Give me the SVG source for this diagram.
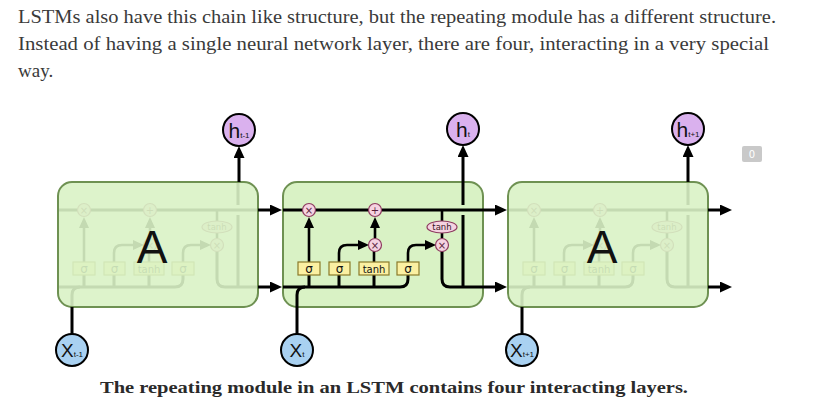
<svg xmlns="http://www.w3.org/2000/svg" xmlns:xlink="http://www.w3.org/1999/xlink" width="813" height="411" viewBox="0 0 813 411">
<defs>
<style>
.para{font-family:"Liberation Serif","DejaVu Serif",serif;font-size:19px;fill:#3a3a3a}
.cap{font-family:"Liberation Serif","DejaVu Serif",serif;font-size:17px;font-weight:bold;fill:#2a2a2a}
.ln{fill:none;stroke:#000;stroke-width:3}
.ln2{fill:none;stroke:#000;stroke-width:2.6}
.box{fill:#d9f2c5;stroke:#6e9152;stroke-width:2}
.boxf{fill:#d9f2c5;fill-opacity:0.9;stroke:#6e9152;stroke-width:2}
.gate{fill:#fbf0a2;stroke:#8a7a2a;stroke-width:1.2}
.gt{font-family:"DejaVu Sans",sans-serif;font-size:12px;fill:#111;text-anchor:middle}
.gt2{font-family:"DejaVu Sans",sans-serif;font-size:10px;fill:#111;text-anchor:middle}
.op{fill:#f5d3e1;stroke:#8e3b60;stroke-width:1.2}
.ot{font-family:"DejaVu Sans",sans-serif;font-size:10px;fill:#5a1f3a;text-anchor:middle}
.ot2{font-family:"DejaVu Sans",sans-serif;font-size:8.5px;fill:#3a1526;text-anchor:middle}
.hc{fill:#dab1ee;stroke:#000;stroke-width:2}
.xc{fill:#a9d1f1;stroke:#000;stroke-width:2}
.lb{font-family:"Liberation Sans",Arial,sans-serif;fill:#111;text-anchor:middle}
.bigA{font-family:"Liberation Sans",Arial,sans-serif;font-size:46px;fill:#111;text-anchor:middle}
</style>
<marker id="ah" markerUnits="userSpaceOnUse" markerWidth="12" markerHeight="11" refX="7" refY="5.5" orient="auto">
<path d="M0,0 L12,5.5 L0,11 z" fill="#000"/>
</marker>
<marker id="ahs" markerUnits="userSpaceOnUse" markerWidth="11" markerHeight="10" refX="6" refY="5" orient="auto">
<path d="M0,0 L11,5 L0,10 z" fill="#000"/>
</marker>
</defs>
<rect width="813" height="411" fill="#fff"/>

<g id="paragraph">
<text class="para" x="18" y="23" textLength="758" lengthAdjust="spacingAndGlyphs">LSTMs also have this chain like structure, but the repeating module has a different structure.</text>
<text class="para" x="18" y="50" textLength="751" lengthAdjust="spacingAndGlyphs">Instead of having a single neural network layer, there are four, interacting in a very special</text>
<text class="para" x="18" y="77">way.</text>
</g>

<g id="module-prev">
<use xlink:href="#cell-lines" href="#cell-lines" transform="translate(-225 0)"/>
<use xlink:href="#cell-ops" href="#cell-ops" transform="translate(-225 0)"/>
<rect class="boxf" x="58" y="182" width="200" height="125" rx="14"/>
<text class="bigA" x="152" y="263">A</text>
</g>

<g id="module-next">
<use xlink:href="#cell-lines" href="#cell-lines" transform="translate(225 0)"/>
<use xlink:href="#cell-ops" href="#cell-ops" transform="translate(225 0)"/>
<rect class="boxf" x="508" y="182" width="200" height="125" rx="14"/>
<text class="bigA" x="602" y="263">A</text>
</g>

<g id="module-current">
<rect class="box" x="283" y="182" width="200" height="125" rx="14"/>
</g>

<g id="connectors">
<g id="cell-lines">
<path class="ln" d="M283,210 H483"/>
<path class="ln" d="M283,287 H400 Q408,287 408,279 V275"/>
<path class="ln" d="M297,307 V295 Q297,287 305,287"/>
<path class="ln" d="M309,287 V275 M339,287 V275 M374,287 V275"/>
<path class="ln2" d="M309,262 V222" marker-end="url(#ahs)"/>
<path class="ln2" d="M339,262 V253 Q339,245 347,245 H364" marker-end="url(#ahs)"/>
<path class="ln2" d="M374,262 V251"/>
<path class="ln2" d="M375,238 V222" marker-end="url(#ahs)"/>
<path class="ln2" d="M408,262 V253 Q408,245 416,245 H431" marker-end="url(#ahs)"/>
<path class="ln2" d="M442,210 V221 M442,233 V238"/>
<path class="ln" d="M442,251 V279 Q442,287 450,287 H483"/>
<path class="ln" d="M463,287 V215 M463,205 V182"/>
</g>
<path class="ln" d="M258,210 H277" marker-end="url(#ah)"/>
<path class="ln" d="M258,287 H277" marker-end="url(#ah)"/>
<path class="ln" d="M483,210 H502" marker-end="url(#ah)"/>
<path class="ln" d="M483,287 H502" marker-end="url(#ah)"/>
<path class="ln" d="M708,210 H727" marker-end="url(#ah)"/>
<path class="ln" d="M708,287 H727" marker-end="url(#ah)"/>
<path class="ln" d="M239,182 V151" marker-end="url(#ah)"/>
<path class="ln" d="M463,182 V150" marker-end="url(#ah)"/>
<path class="ln" d="M688,182 V150" marker-end="url(#ah)"/>
<path class="ln" d="M72,334 V307"/>
<path class="ln" d="M297,334 V307"/>
<path class="ln" d="M522,334 V307"/>
</g>

<g id="cell-ops">
<g id="gate-forget"><rect class="gate" x="298" y="262" width="22" height="13"/><text class="gt" x="309" y="273">σ</text></g>
<g id="gate-input"><rect class="gate" x="329" y="262" width="21" height="13"/><text class="gt" x="339.5" y="273">σ</text></g>
<g id="gate-candidate"><rect class="gate" x="359" y="262" width="30" height="13"/><text class="gt2" x="374" y="272.5">tanh</text></g>
<g id="gate-output"><rect class="gate" x="397" y="262" width="22" height="13"/><text class="gt" x="408" y="273">σ</text></g>
<g id="op-forget"><circle class="op" cx="309" cy="210" r="6.5"/><text class="ot" x="309" y="213.5">×</text></g>
<g id="op-add"><circle class="op" cx="375" cy="210" r="6.5"/><text class="ot" x="375" y="213.5">+</text></g>
<g id="op-input"><circle class="op" cx="375" cy="245" r="6.5"/><text class="ot" x="375" y="248.5">×</text></g>
<g id="op-tanh"><ellipse class="op" cx="442" cy="227" rx="15" ry="6"/><text class="ot2" x="442" y="230">tanh</text></g>
<g id="op-output"><circle class="op" cx="442" cy="245" r="6.5"/><text class="ot" x="442" y="248.5">×</text></g>
</g>

<g id="h-prev"><circle class="hc" cx="239" cy="130" r="16"/><text class="lb" x="239" y="138" font-size="21">h<tspan font-size="8">t-1</tspan></text></g>
<g id="h-cur"><circle class="hc" cx="463" cy="129" r="16"/><text class="lb" x="463" y="137" font-size="21">h<tspan font-size="8">t</tspan></text></g>
<g id="h-next"><circle class="hc" cx="688" cy="129" r="16"/><text class="lb" x="688" y="137" font-size="21">h<tspan font-size="8">t+1</tspan></text></g>

<g id="x-prev"><circle class="xc" cx="72" cy="350" r="16"/><text class="lb" x="72" y="357" font-size="19">X<tspan font-size="8">t-1</tspan></text></g>
<g id="x-cur"><circle class="xc" cx="297" cy="350" r="16"/><text class="lb" x="297" y="357" font-size="19">X<tspan font-size="8">t</tspan></text></g>
<g id="x-next"><circle class="xc" cx="522" cy="350" r="16"/><text class="lb" x="522" y="357" font-size="19">X<tspan font-size="8">t+1</tspan></text></g>

<g id="badge"><rect x="742" y="146" width="20" height="16" rx="2" fill="#c9c9c9"/><text x="752" y="158" font-family="DejaVu Sans,sans-serif" font-size="10" fill="#fff" text-anchor="middle">0</text></g>

<g id="caption">
<text class="cap" x="100" y="393" textLength="588" lengthAdjust="spacingAndGlyphs">The repeating module in an LSTM contains four interacting layers.</text>
</g>
</svg>
